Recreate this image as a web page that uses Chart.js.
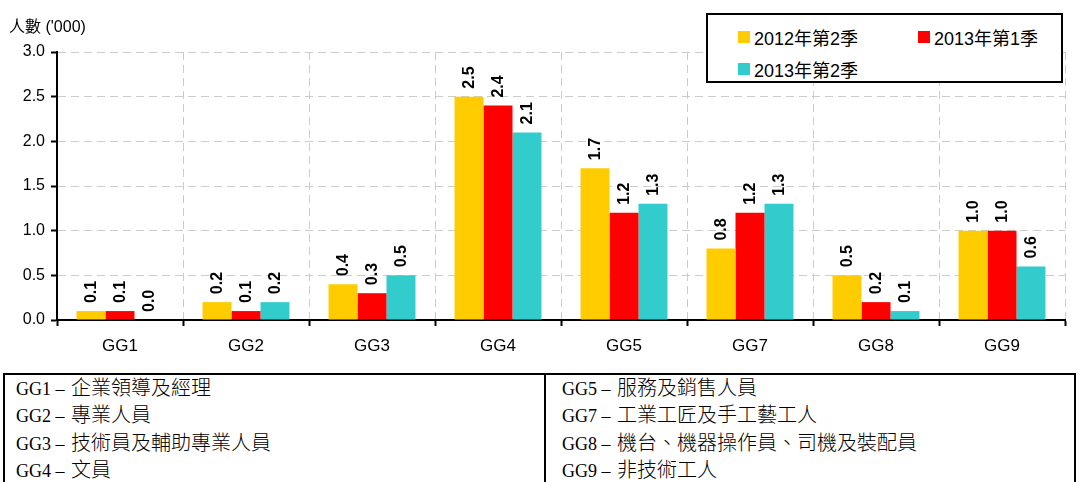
<!DOCTYPE html>
<html>
<head>
<meta charset="utf-8">
<script src="https://cdn.jsdelivr.net/npm/chart.js@4/dist/chart.umd.min.js"></script>
<style>
  body { margin: 0; background: #fff; width: 1080px; height: 482px; overflow: hidden; position: relative; }
  #wrap { position: absolute; left: 0; top: 0; width: 1080px; height: 370px; }
  #legend {
    position: absolute; left: 706px; top: 13px; width: 353px; height: 66px;
    border: 2px solid #000; background: #fff;
    font-family: "Liberation Sans", Arial, "Noto Sans CJK TC", sans-serif; font-size: 18px; color: #000;
  }
  .item { position: absolute; display: flex; align-items: center; }
  .item span.sw { width: 12px; height: 12px; margin-right: 4px; display: inline-block; }
  #notes {
    position: absolute; left: 3px; top: 373px; width: 1073px; border-collapse: collapse;
    font-family: "Liberation Serif", "Times New Roman", serif; font-size: 18px; color: #000;
  }
  #notes td { border-left: 2px solid #000; border-right: 2px solid #000; vertical-align: top; white-space: nowrap; padding-top: 1px; }
  #notes tr:first-child td { border-top: 2px solid #000; }
  #notes .ln { height: 27.4px; line-height: 27.4px; overflow: visible; }
  #notes .zh { font-family: "Noto Sans CJK TC", sans-serif; font-size: 20px; font-weight: 300; line-height: 20px; margin-left: 2px; }
</style>
</head>
<body>
<div id="wrap"><canvas id="chart" width="1080" height="370"></canvas></div>
<div id="legend"></div>
<table id="notes"><tr><td id="colL" style="width:527px; padding-left:11px"></td><td id="colR" style="padding-left:16px"></td></tr></table>
<script>
// =============================
// DATA
// =============================
const categories = ["GG1", "GG2", "GG3", "GG4", "GG5", "GG7", "GG8", "GG9"];
const seriesNames = ["2012年第2季", "2013年第1季", "2013年第2季"];
const q2_2012 = [0.1, 0.2, 0.4, 2.5, 1.7, 0.8, 0.5, 1.0];
const q1_2013 = [0.1, 0.1, 0.3, 2.4, 1.2, 1.2, 0.2, 1.0];
const q2_2013 = [0.0, 0.2, 0.5, 2.1, 1.3, 1.3, 0.1, 0.6];
const colors = ["#FFCC00", "#FF0000", "#33CCCC"];
const yTicks = [0, 0.5, 1.0, 1.5, 2.0, 2.5, 3.0];
const yTitle = "人數 ('000)";
const notesLeft = ["GG1 – 企業領導及經理", "GG2 – 專業人員", "GG3 – 技術員及輔助專業人員", "GG4 – 文員"];
const notesRight = ["GG5 – 服務及銷售人員", "GG7 – 工業工匠及手工藝工人", "GG8 – 機台、機器操作員、司機及裝配員", "GG9 – 非技術工人"];

const font = "'Liberation Sans', Arial, sans-serif";

// =============================
// Legend + notes table
// =============================
const legendPos = [[30, 9], [210, 9], [30, 41]];
const legend = document.getElementById("legend");
seriesNames.forEach((name, i) => {
  const d = document.createElement("div");
  d.className = "item";
  d.style.left = legendPos[i][0] + "px";
  d.style.top = legendPos[i][1] + "px";
  d.innerHTML = `<span class="sw" style="background:${colors[i]}"></span>${name}`;
  legend.appendChild(d);
});
const noteLine = s => {
  const [code, text] = s.split(" – ");
  return `<div class="ln">${code} – <span class="zh">${text}</span></div>`;
};
document.getElementById("colL").innerHTML = notesLeft.map(noteLine).join("");
document.getElementById("colR").innerHTML = notesRight.map(noteLine).join("");

// =============================
// Plugins
// =============================
const barLabels = {
  id: "barLabels",
  afterDatasetsDraw(chart) {
    const ctx = chart.ctx;
    ctx.save();
    ctx.font = "bold 16px " + font;
    ctx.fillStyle = "#000";
    ctx.textAlign = "left";
    ctx.textBaseline = "middle";
    chart.data.datasets.forEach((ds, i) => {
      chart.getDatasetMeta(i).data.forEach((bar, j) => {
        ctx.save();
        ctx.translate(bar.x + 1, bar.y - 8);
        ctx.rotate(-Math.PI / 2);
        ctx.fillText(ds.data[j].toFixed(1), 0, 0);
        ctx.restore();
      });
    });
    ctx.restore();
  }
};

const axisTitle = {
  id: "axisTitle",
  afterDraw(chart) {
    const ctx = chart.ctx;
    ctx.save();
    ctx.font = "16px " + font + ", 'Noto Sans CJK TC'";
    ctx.fillStyle = "#000";
    ctx.textBaseline = "middle";
    ctx.fillText(yTitle, 9, 28);
    ctx.restore();
  }
};

// =============================
// Chart
// =============================
const gridOpts = { color: "#cccccc", lineWidth: 1, tickColor: "#000", tickLength: 6, tickBorderDash: [0, 0], tickWidth: 2 };

new Chart(document.getElementById("chart"), {
  type: "bar",
  data: {
    labels: categories,
    datasets: [q2_2012, q1_2013, q2_2013].map((d, i) => ({
      label: seriesNames[i],
      data: d,
      backgroundColor: colors[i],
      categoryPercentage: 0.69,
      barPercentage: 1.0
    }))
  },
  options: {
    responsive: false,
    animation: false,
    layout: { padding: { left: 0, right: 15, top: 52, bottom: 0 } },
    plugins: { legend: { display: false }, tooltip: { enabled: false } },
    scales: {
      x: {
        afterFit: s => { s.height = 50; },
        grid: gridOpts,
        border: { color: "#000", width: 2, dash: [8, 5] },
        ticks: { color: "#000", font: { family: font, size: 17 }, padding: 10 }
      },
      y: {
        min: 0,
        max: 3,
        afterFit: s => { s.width = 57; },
        afterBuildTicks: s => { s.ticks = yTicks.map(v => ({ value: v })); },
        grid: gridOpts,
        border: { color: "#000", width: 2, dash: [8, 5] },
        ticks: { color: "#000", font: { family: font, size: 16 }, padding: 6, callback: v => v.toFixed(1) }
      }
    }
  },
  plugins: [barLabels, axisTitle]
});
</script>
</body>
</html>
